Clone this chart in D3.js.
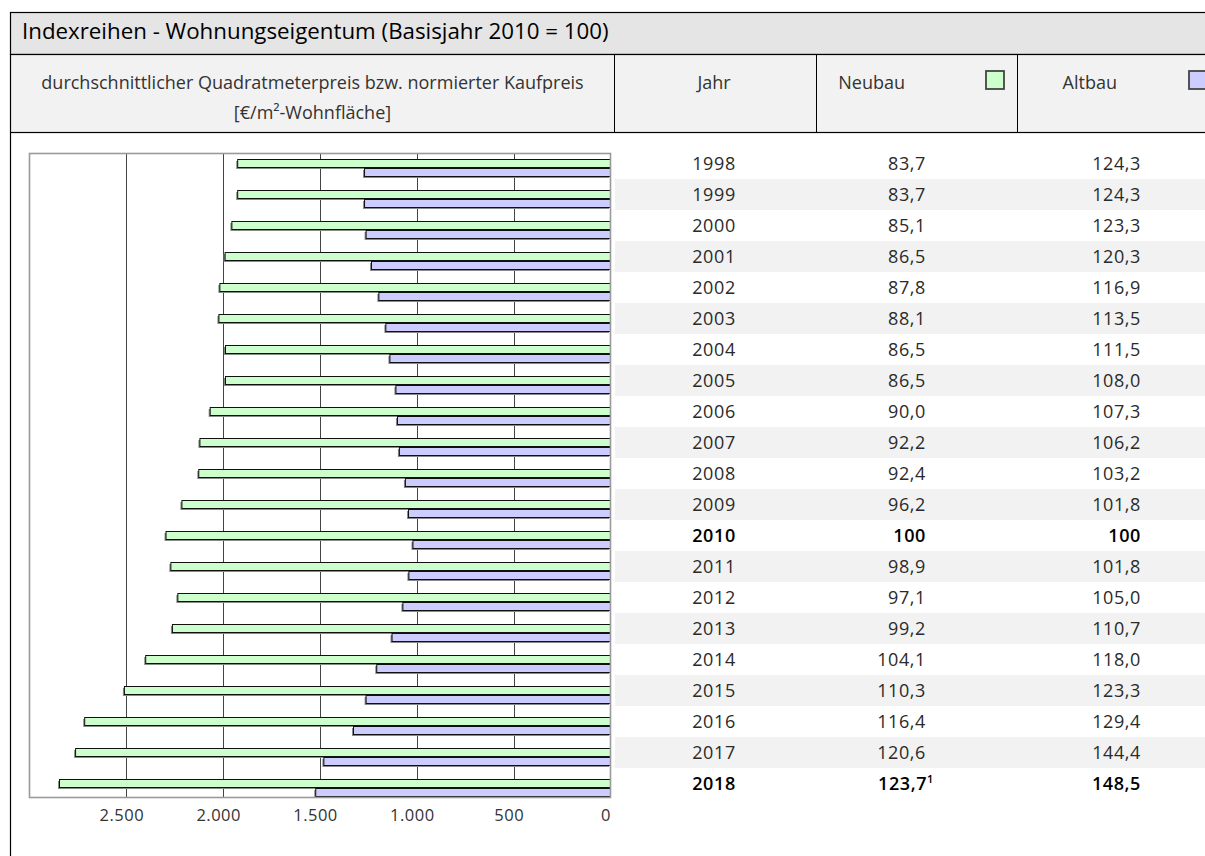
<!DOCTYPE html>
<html>
<head>
<meta charset="utf-8">
<script src="https://cdn.jsdelivr.net/npm/d3@7"></script>
<style>
  body { margin: 0; background: #fff; }
  svg { display: block; }
  text { font-family: "Open Sans", Lato, "DejaVu Sans", sans-serif; }
</style>
</head>
<body>
<svg id="chart" width="1205" height="856"></svg>
<script>
// ---- content -------------------------------------------------------------
const title = "Indexreihen - Wohnungseigentum (Basisjahr 2010 = 100)";
const unitLines = ["durchschnittlicher Quadratmeterpreis bzw. normierter Kaufpreis", "[€/m²-Wohnfläche]"];
const columnLabels = ["Jahr", "Neubau", "Altbau"];

const years = [1998, 1999, 2000, 2001, 2002, 2003, 2004, 2005, 2006, 2007, 2008,
               2009, 2010, 2011, 2012, 2013, 2014, 2015, 2016, 2017, 2018];

// index values (2010 = 100)
const neubauIndex = [83.7, 83.7, 85.1, 86.5, 87.8, 88.1, 86.5, 86.5, 90.0, 92.2, 92.4,
                     96.2, 100, 98.9, 97.1, 99.2, 104.1, 110.3, 116.4, 120.6, 123.7];
const altbauIndex = [124.3, 124.3, 123.3, 120.3, 116.9, 113.5, 111.5, 108.0, 107.3, 106.2, 103.2,
                     101.8, 100, 101.8, 105.0, 110.7, 118.0, 123.3, 129.4, 144.4, 148.5];

// average price per m² living space (€/m²)
const neubauPrice = [1925, 1925, 1955, 1990, 2017, 2022, 1988, 1988, 2067, 2120, 2126,
                     2213, 2295, 2270, 2234, 2262, 2400, 2510, 2715, 2762, 2845];
const altbauPrice = [1270, 1270, 1262, 1234, 1196, 1160, 1139, 1108, 1100, 1090, 1059,
                     1043, 1020, 1041, 1072, 1128, 1207, 1262, 1327, 1480, 1522];

const priceTicks = [0, 500, 1000, 1500, 2000, 2500];
const highlightYears = [2010, 2018];
const footnoteYear = 2018;   // Neubau value carries footnote 1

// ---- helpers -------------------------------------------------------------
const de = d3.formatLocale({ decimal: ",", thousands: ".", grouping: [3], currency: ["", " €"] });
const fmtInt = de.format(",d");
const fmtIdx = v => (v === 100 ? "100" : de.format(".1f")(v));

const svg = d3.select("#chart");
const W = 1205, H = 856;

const colNeu = "#ccffcc", colAlt = "#ccccff";

// ---- frame: title bar and column header -----------------------------------
const frameX = 10.5;
const sep = [614.5, 816.5, 1017.5];

svg.append("rect").attr("x", frameX).attr("y", 12.5).attr("width", W).attr("height", 42)
  .attr("fill", "#e5e5e5").attr("stroke", "#000").attr("stroke-width", 1.2);
svg.append("text").attr("x", 22).attr("y", 39).attr("font-size", 22.3).attr("fill", "#000")
  .text(title);

svg.append("rect").attr("x", frameX).attr("y", 54.5).attr("width", W).attr("height", 78)
  .attr("fill", "#f2f2f2").attr("stroke", "#000").attr("stroke-width", 1.2);
sep.forEach(x => svg.append("line").attr("x1", x).attr("x2", x).attr("y1", 54.5).attr("y2", 132.5)
  .attr("stroke", "#000").attr("stroke-width", 1));
svg.append("line").attr("x1", frameX).attr("x2", frameX).attr("y1", 132.5).attr("y2", H)
  .attr("stroke", "#000").attr("stroke-width", 1.2);

const hdr = svg.append("g").attr("font-size", 18).attr("fill", "#333");
unitLines.forEach((t, i) => hdr.append("text").attr("x", (frameX + sep[0]) / 2).attr("y", 89 + i * 30)
  .attr("text-anchor", "middle").text(t));
hdr.append("text").attr("x", 714).attr("y", 89).attr("text-anchor", "middle").text(columnLabels[0]);
hdr.append("text").attr("x", 905).attr("y", 89).attr("text-anchor", "end").text(columnLabels[1]);
hdr.append("text").attr("x", 1117).attr("y", 89).attr("text-anchor", "end").text(columnLabels[2]);
[[986, colNeu], [1189, colAlt]].forEach(([x, c]) =>
  svg.append("rect").attr("x", x).attr("y", 71).attr("width", 18).attr("height", 18)
    .attr("fill", c).attr("stroke", "#444").attr("stroke-width", 1.8));

// ---- row layout ----------------------------------------------------------
const y = d3.scaleBand().domain(years).range([148, 148 + years.length * 31]).paddingInner(0);

// zebra stripes behind the table rows
svg.append("g").selectAll("rect").data(years.filter((d, i) => i % 2 === 1)).join("rect")
  .attr("x", 615).attr("y", d => y(d)).attr("width", W - 615).attr("height", y.bandwidth())
  .attr("fill", "#f2f2f2");

// ---- bar chart (reversed price axis) ---------------------------------------
const x = d3.scaleLinear().domain([0, 3000]).range([610.5, 29.5]);
const plotTop = 153.5, plotBottom = 797.5;

svg.append("g").selectAll("line").data(priceTicks.filter(t => t > 0)).join("line")
  .attr("x1", d => Math.round(x(d)) + 0.5).attr("x2", d => Math.round(x(d)) + 0.5)
  .attr("y1", plotTop).attr("y2", plotBottom).attr("stroke", "#444").attr("stroke-width", 1);

const rows = years.map((yr, i) => ({ yr, neu: neubauPrice[i], alt: altbauPrice[i] }));
const bars = svg.append("g");
const barH = 8;
function drawBars(key, offset, fill) {
  // soft drop shadow
  bars.append("g").selectAll("rect").data(rows).join("rect")
    .attr("x", d => x(d[key]) - 1.5).attr("y", d => y(d.yr) + offset + 1.5)
    .attr("width", d => x(0) - x(d[key])).attr("height", barH)
    .attr("fill", "#8a8a8a");
  bars.append("g").selectAll("rect").data(rows).join("rect")
    .attr("x", d => x(d[key])).attr("y", d => y(d.yr) + offset)
    .attr("width", d => x(0) - x(d[key])).attr("height", barH)
    .attr("fill", fill).attr("stroke", "#111").attr("stroke-width", 1);
}
drawBars("neu", 11.5, colNeu);
drawBars("alt", 20.5, colAlt);

svg.append("rect").attr("x", 29.5).attr("y", plotTop).attr("width", 581).attr("height", plotBottom - plotTop)
  .attr("fill", "none").attr("stroke", "#9a9a9a").attr("stroke-width", 1.6);

const axis = d3.axisBottom(x).tickValues(priceTicks).tickFormat(fmtInt).tickSize(0).tickPadding(0);
const ax = svg.append("g").attr("transform", `translate(0,${plotBottom + 12})`).call(axis);
ax.select(".domain").remove();
ax.selectAll("text").attr("font-size", 16.5).attr("fill", "#333").attr("letter-spacing", 0.5)
  .attr("dx", -5).attr("font-family", "'Open Sans', Lato, sans-serif");

// ---- table values ---------------------------------------------------------
const table = svg.append("g").attr("font-size", 18).attr("letter-spacing", 0.6);
rows.forEach((r, i) => {
  const cy = y(r.yr) + y.bandwidth() / 2 + 6.5;
  const bold = highlightYears.includes(r.yr);
  const g = table.append("g").attr("fill", bold ? "#000" : "#2a2a2a")
    .attr("font-weight", bold ? 600 : 400);
  g.append("text").attr("x", 714).attr("y", cy).attr("text-anchor", "middle").text(r.yr);
  const tn = g.append("text").attr("x", 926).attr("y", cy).attr("text-anchor", "end");
  if (r.yr === footnoteYear) {
    tn.attr("x", 934);
    tn.append("tspan").text(fmtIdx(neubauIndex[i]));
    tn.append("tspan").attr("font-size", 11).attr("dy", -7).text("1");
  } else {
    tn.text(fmtIdx(neubauIndex[i]));
  }
  g.append("text").attr("x", 1141).attr("y", cy).attr("text-anchor", "end").text(fmtIdx(altbauIndex[i]));
});
</script>
</body>
</html>
